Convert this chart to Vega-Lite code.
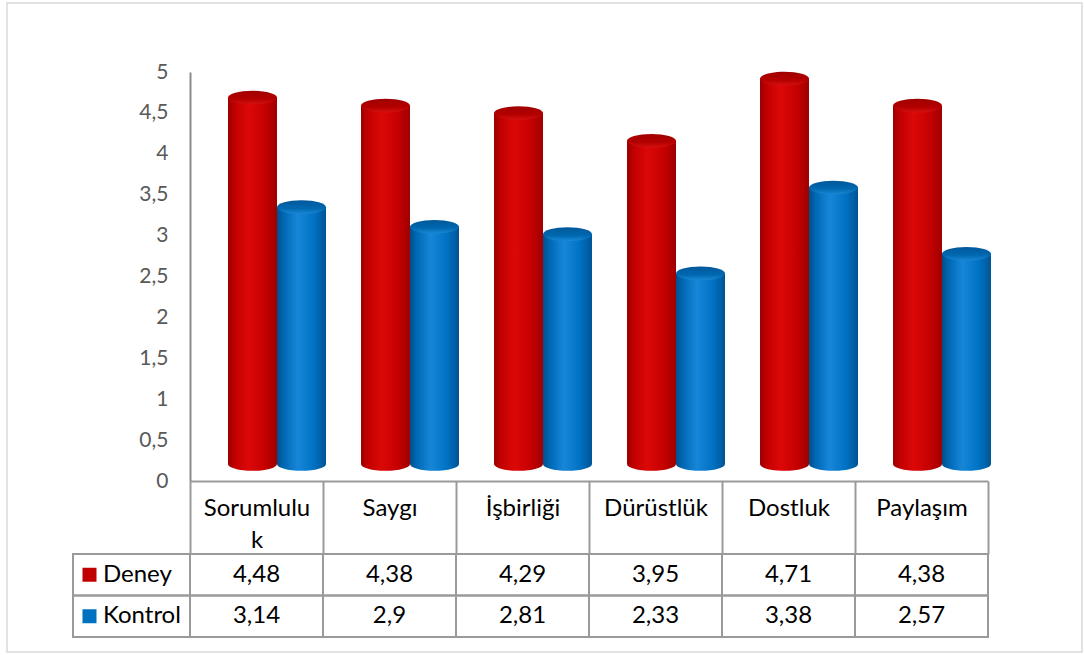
{
  "$schema": "https://vega.github.io/schema/vega-lite/v6.json",
  "width": 798,
  "height": 409,
  "autosize": "none",
  "padding": {"left": 190, "top": 72, "right": 96, "bottom": 174},
  "background": "white",
  "config": {
    "view": {"stroke": null},
    "font": "Lato",
    "locale": {
      "number": {"decimal": ",", "thousands": ".", "grouping": [3], "currency": ["", " TL"]}
    }
  },
  "datasets": {
    "puanlar": [
      {"kategori": "Sorumluluk", "seri": "Deney", "deger": 4.48},
      {"kategori": "Sorumluluk", "seri": "Kontrol", "deger": 3.14},
      {"kategori": "Saygı", "seri": "Deney", "deger": 4.38},
      {"kategori": "Saygı", "seri": "Kontrol", "deger": 2.9},
      {"kategori": "İşbirliği", "seri": "Deney", "deger": 4.29},
      {"kategori": "İşbirliği", "seri": "Kontrol", "deger": 2.81},
      {"kategori": "Dürüstlük", "seri": "Deney", "deger": 3.95},
      {"kategori": "Dürüstlük", "seri": "Kontrol", "deger": 2.33},
      {"kategori": "Dostluk", "seri": "Deney", "deger": 4.71},
      {"kategori": "Dostluk", "seri": "Kontrol", "deger": 3.38},
      {"kategori": "Paylaşım", "seri": "Deney", "deger": 4.38},
      {"kategori": "Paylaşım", "seri": "Kontrol", "deger": 2.57}
    ],
    "seriler": [{"seri": "Deney"}, {"seri": "Kontrol"}],
    "cerceve": [{"bas": 0, "son": 1}]
  },
  "resolve": {"scale": {"x": "independent", "y": "independent"}},
  "layer": [
    {
      "data": {"name": "cerceve"},
      "mark": {"type": "rect", "fill": "transparent", "stroke": "#d9d9d9", "strokeWidth": 1.5},
      "encoding": {
        "x": {"field": "bas", "type": "quantitative", "scale": {"domain": [0, 1], "range": [-183, 892]}, "axis": null},
        "x2": {"field": "son"},
        "y": {"field": "bas", "type": "quantitative", "scale": {"domain": [0, 1], "range": [-69, 580]}, "axis": null},
        "y2": {"field": "son"}
      }
    },
    {
      "data": {"name": "puanlar"},
      "encoding": {
        "x": {
          "field": "kategori",
          "type": "nominal",
          "sort": null,
          "scale": {
            "type": "band",
            "domain": ["Sorumluluk", "Saygı", "İşbirliği", "Dürüstlük", "Dostluk", "Paylaşım"],
            "paddingInner": 0,
            "paddingOuter": 0
          },
          "axis": {
            "orient": "bottom",
            "title": null,
            "domainColor": "#9a9a9a",
            "domainWidth": 2,
            "ticks": true,
            "tickBand": "extent",
            "tickSize": 73,
            "tickColor": "#9a9a9a",
            "tickWidth": 2,
            "labelAngle": 0,
            "labelFont": "Lato",
            "labelFontSize": 24,
            "labelColor": "#000000",
            "labelBaseline": "alphabetic",
            "labelPadding": -39,
            "labelLineHeight": 32,
            "labelOverlap": false,
            "labelFlush": false,
            "labelBound": false,
            "labelLimit": 200,
            "labelExpr": "datum.label == 'Sorumluluk' ? ['Sorumlulu', 'k'] : datum.label"
          }
        },
        "y": {
          "field": "deger",
          "type": "quantitative",
          "scale": {"domain": [0, 5], "nice": false},
          "axis": {
            "orient": "left",
            "title": null,
            "values": [0, 0.5, 1, 1.5, 2, 2.5, 3, 3.5, 4, 4.5, 5],
            "format": ".1~f",
            "ticks": false,
            "grid": false,
            "domainColor": "#8c8c8c",
            "domainWidth": 2,
            "labelFont": "Lato",
            "labelFontSize": 21,
            "labelColor": "#595959",
            "labelPadding": 22
          }
        }
      },
      "layer": [
        {
          "transform": [{"filter": "datum.seri == 'Deney'"}],
          "layer": [
            {
              "mark": {
                "type": "bar", "width": 49, "xOffset": -4, "yOffset": -17, "y2Offset": -17,
                "fill": {"gradient": "linear", "x1": 0, "y1": 0, "x2": 1, "y2": 0, "stops": [
                  {"offset": 0, "color": "#9a0000"},
                  {"offset": 0.14, "color": "#c20000"},
                  {"offset": 0.42, "color": "#dc0808"},
                  {"offset": 0.75, "color": "#c60000"},
                  {"offset": 1, "color": "#9e0000"}
                ]}
              }
            },
            {
              "mark": {
                "type": "point", "filled": true, "opacity": 1, "size": 2401, "xOffset": -4, "yOffset": -17,
                "shape": "M-1,0C-1,0.1546,-0.5523,0.28,0,0.28C0.5523,0.28,1,0.1546,1,0C1,-0.1546,0.5523,-0.28,0,-0.28C-0.5523,-0.28,-1,-0.1546,-1,0Z",
                "fill": {"gradient": "linear", "x1": 0, "y1": 0, "x2": 1, "y2": 0, "stops": [
                  {"offset": 0, "color": "#9a0000"},
                  {"offset": 0.14, "color": "#c20000"},
                  {"offset": 0.42, "color": "#dc0808"},
                  {"offset": 0.75, "color": "#c60000"},
                  {"offset": 1, "color": "#9e0000"}
                ]}
              },
              "encoding": {"y": {"datum": 0, "type": "quantitative"}}
            },
            {
              "mark": {
                "type": "point", "filled": true, "opacity": 1, "size": 2401, "xOffset": -4, "yOffset": -17,
                "shape": "M-1,0C-1,0.1546,-0.5523,0.28,0,0.28C0.5523,0.28,1,0.1546,1,0C1,-0.1546,0.5523,-0.28,0,-0.28C-0.5523,-0.28,-1,-0.1546,-1,0Z",
                "fill": {"gradient": "linear", "x1": 0, "y1": 0, "x2": 0, "y2": 1, "stops": [
                  {"offset": 0, "color": "#a00000"},
                  {"offset": 0.6, "color": "#b40000"},
                  {"offset": 1, "color": "#d41010"}
                ]}
              }
            }
          ]
        },
        {
          "transform": [{"filter": "datum.seri == 'Kontrol'"}],
          "layer": [
            {
              "mark": {
                "type": "bar", "width": 49, "xOffset": 45, "yOffset": -17, "y2Offset": -17,
                "fill": {"gradient": "linear", "x1": 0, "y1": 0, "x2": 1, "y2": 0, "stops": [
                  {"offset": 0, "color": "#004f8c"},
                  {"offset": 0.14, "color": "#0068b4"},
                  {"offset": 0.42, "color": "#1786d8"},
                  {"offset": 0.75, "color": "#0072c4"},
                  {"offset": 1, "color": "#005494"}
                ]}
              }
            },
            {
              "mark": {
                "type": "point", "filled": true, "opacity": 1, "size": 2401, "xOffset": 45, "yOffset": -17,
                "shape": "M-1,0C-1,0.1546,-0.5523,0.28,0,0.28C0.5523,0.28,1,0.1546,1,0C1,-0.1546,0.5523,-0.28,0,-0.28C-0.5523,-0.28,-1,-0.1546,-1,0Z",
                "fill": {"gradient": "linear", "x1": 0, "y1": 0, "x2": 1, "y2": 0, "stops": [
                  {"offset": 0, "color": "#004f8c"},
                  {"offset": 0.14, "color": "#0068b4"},
                  {"offset": 0.42, "color": "#1786d8"},
                  {"offset": 0.75, "color": "#0072c4"},
                  {"offset": 1, "color": "#005494"}
                ]}
              },
              "encoding": {"y": {"datum": 0, "type": "quantitative"}}
            },
            {
              "mark": {
                "type": "point", "filled": true, "opacity": 1, "size": 2401, "xOffset": 45, "yOffset": -17,
                "shape": "M-1,0C-1,0.1546,-0.5523,0.28,0,0.28C0.5523,0.28,1,0.1546,1,0C1,-0.1546,0.5523,-0.28,0,-0.28C-0.5523,-0.28,-1,-0.1546,-1,0Z",
                "fill": {"gradient": "linear", "x1": 0, "y1": 0, "x2": 0, "y2": 1, "stops": [
                  {"offset": 0, "color": "#00589a"},
                  {"offset": 0.6, "color": "#0068b0"},
                  {"offset": 1, "color": "#1a88d6"}
                ]}
              }
            }
          ]
        }
      ]
    },
    {
      "data": {"name": "puanlar"},
      "encoding": {
        "x": {
          "field": "kategori",
          "type": "nominal",
          "sort": null,
          "scale": {
            "type": "band",
            "domain": ["Sorumluluk", "Saygı", "İşbirliği", "Dürüstlük", "Dostluk", "Paylaşım"],
            "paddingInner": 0,
            "paddingOuter": 0
          },
          "axis": null
        },
        "y": {
          "field": "seri",
          "type": "nominal",
          "scale": {"type": "band", "domain": ["Deney", "Kontrol"], "range": [482, 565], "paddingInner": 0, "paddingOuter": 0},
          "axis": null
        }
      },
      "layer": [
        {"mark": {"type": "rect", "fill": "transparent", "stroke": "#9a9a9a", "strokeWidth": 2}},
        {
          "mark": {"type": "text", "font": "Lato", "fontSize": 24, "color": "#000000", "baseline": "middle"},
          "encoding": {"text": {"field": "deger", "type": "quantitative", "format": ".3~r"}}
        }
      ]
    },
    {
      "data": {"name": "seriler"},
      "encoding": {
        "x": {
          "datum": "Seri",
          "type": "nominal",
          "scale": {"type": "band", "domain": ["Seri"], "range": [-117, 0], "paddingInner": 0, "paddingOuter": 0},
          "axis": null
        },
        "y": {
          "field": "seri",
          "type": "nominal",
          "scale": {"type": "band", "domain": ["Deney", "Kontrol"], "range": [482, 565], "paddingInner": 0, "paddingOuter": 0},
          "axis": null
        }
      },
      "layer": [
        {"mark": {"type": "rect", "fill": "transparent", "stroke": "#9a9a9a", "strokeWidth": 2}},
        {
          "mark": {"type": "point", "shape": "square", "size": 196, "filled": true, "opacity": 1},
          "encoding": {
            "x": {"datum": "Seri", "type": "nominal", "bandPosition": 0.141},
            "color": {"field": "seri", "type": "nominal", "scale": {"domain": ["Deney", "Kontrol"], "range": ["#c00000", "#0070c0"]}, "legend": null}
          }
        },
        {
          "mark": {"type": "text", "align": "left", "baseline": "middle", "font": "Lato", "fontSize": 24, "color": "#000000"},
          "encoding": {
            "x": {"datum": "Seri", "type": "nominal", "bandPosition": 0.256},
            "text": {"field": "seri", "type": "nominal"}
          }
        }
      ]
    }
  ]
}
